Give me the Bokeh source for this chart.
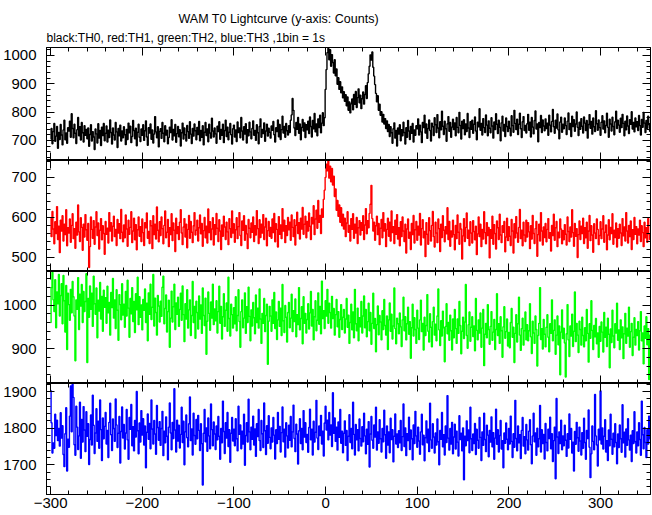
from bokeh.plotting import figure
from bokeh.models import (Range1d, SingleIntervalTicker, LinearAxis, Title,
                          CustomJSTickFormatter, ColumnDataSource)
from bokeh.layouts import column
from bokeh.embed import file_html
from bokeh.resources import INLINE

# ---------------- data (counts per 1 s bin, first bin at t = -300 s) -------------
t_start = -300

th0 = [
    705, 742, 688, 731, 760, 697, 715, 749, 672, 728, 703, 756, 719, 684, 737, 771, 702, 726, 690, 745,
    733, 768, 711, 794, 742, 709, 757, 725, 689, 738, 781, 716, 748, 701, 763, 727, 694, 752, 718, 739,
    706, 744, 679, 721, 755, 698, 731, 712, 668, 740, 723, 691, 759, 708, 735, 682, 747, 717, 760, 699,
    725, 751, 694, 736, 710, 772, 728, 687, 744, 719, 701, 763, 730, 675, 742, 716, 754, 698, 733, 709,
    748, 720, 685, 739, 703, 761, 727, 750, 692, 714, 770, 735, 706, 743, 681, 729, 757, 711, 696, 740,
    718, 755, 700, 734, 769, 712, 683, 745, 726, 758, 704, 737, 691, 722, 784, 730, 709, 748, 677, 732,
    741, 707, 763, 725, 695, 752, 719, 736, 688, 710, 747, 728, 773, 701, 739, 716, 756, 693, 724, 749,
    713, 738, 680, 727, 761, 705, 744, 720, 698, 753, 731, 707, 766, 722, 689, 742, 715, 758, 734, 702,
    746, 721, 767, 699, 735, 711, 752, 684, 729, 763, 717, 740, 695, 757, 726, 708, 778, 733, 712, 744,
    723, 690, 750, 731, 766, 704, 739, 718, 757, 692, 735, 771, 714, 747, 702, 729, 760, 720, 687, 741,
    754, 712, 737, 696, 765, 728, 744, 709, 781, 733, 701, 748, 722, 759, 691, 738, 716, 764, 730, 706,
    742, 769, 718, 735, 700, 755, 727, 688, 749, 776, 711, 739, 724, 762, 697, 733, 757, 715, 743, 729,
    708, 751, 736, 767, 720, 694, 745, 731, 772, 713, 756, 703, 738, 785, 726, 749, 711, 760, 734, 719,
    752, 728, 771, 790, 848, 806, 744, 717, 763, 739, 781, 725, 758, 702, 746, 774, 733, 762, 710, 755,
    737, 768, 724, 783, 749, 712, 770, 741, 795, 730, 758, 716, 776, 745, 789, 727, 761, 798, 752, 780,
    880, 950, 1010, 1025, 985, 1020, 962, 1003, 975, 938, 985, 928, 952, 898, 921, 880, 907, 868, 889, 850,
    872, 838, 861, 822, 853, 806, 836, 797, 829, 846, 808, 862, 827, 873, 816, 851, 882, 833, 860, 812,
    847, 871, 828, 862, 893, 848, 904, 935, 962, 1002, 984, 1012, 958, 927, 897, 866, 836, 858, 806, 828,
    789, 801, 765, 792, 758, 777, 742, 769, 731, 756, 714, 748, 727, 690, 741, 762, 708, 735, 680, 744,
    722, 755, 699, 738, 716, 764, 728, 687, 745, 711, 770, 733, 703, 749, 725, 760, 694, 737, 718, 752,
    741, 776, 719, 754, 730, 692, 763, 745, 789, 726, 758, 707, 742, 772, 735, 698, 761, 748, 717, 780,
    755, 728, 791, 744, 709, 766, 737, 803, 750, 721, 768, 741, 697, 759, 784, 732, 763, 711, 747, 775,
    738, 762, 716, 781, 746, 727, 799, 753, 705, 768, 742, 773, 720, 758, 731, 795, 744, 710, 766, 739,
    771, 725, 757, 783, 733, 702, 764, 748, 812, 736, 760, 719, 777, 745, 728, 790, 754, 716, 769, 743,
    727, 780, 751, 708, 765, 738, 794, 757, 724, 771, 746, 699, 762, 785, 733, 756, 714, 779, 749, 731,
    768, 743, 716, 787, 752, 729, 806, 760, 738, 775, 721, 757, 796, 741, 710, 766, 784, 735, 753, 726,
    759, 792, 736, 764, 712, 781, 747, 723, 770, 804, 740, 758, 695, 763, 745, 788, 728, 772, 751, 734,
    776, 742, 761, 718, 789, 754, 730, 767, 809, 748, 725, 771, 744, 793, 737, 706, 765, 782, 729, 757,
    741, 779, 752, 721, 768, 797, 738, 760, 714, 785, 749, 773, 732, 758, 800, 746, 717, 764, 739, 777,
    750, 726, 783, 761, 735, 770, 708, 756, 791, 743, 767, 722, 779, 748, 731, 805, 759, 736, 772, 745,
    718, 764, 787, 740, 769, 727, 753, 796, 746, 711, 775, 758, 733, 782, 749, 720, 766, 803, 742, 771,
    754, 729, 778, 745, 792, 760, 716, 768, 737, 786, 751, 724, 773, 757, 801, 740, 763, 730, 779, 748,
    766, 735, 788, 752, 719, 774, 746, 799, 761, 728, 770, 743, 785, 756, 732,
]

th1 = [
    598, 552, 615, 571, 534, 589, 560, 627, 545, 578, 512, 593, 566, 604, 541, 583, 557, 619, 529, 574,
    561, 596, 538, 580, 609, 547, 572, 523, 588, 556, 631, 564, 540, 599, 575, 518, 583, 551, 607, 569,
    543, 585, 475, 527, 601, 570, 548, 592, 533, 576, 614, 555, 586, 521, 568, 597, 544, 579, 560, 508,
    590, 558, 573, 536, 612, 566, 587, 541, 578, 603, 552, 570, 530, 595, 561, 584, 547, 620, 563, 539,
    581, 549, 606, 571, 528, 593, 558, 575, 614, 537, 566, 598, 544, 582, 519, 569, 601, 553, 577, 540,
    596, 562, 530, 587, 574, 611, 548, 565, 535, 592, 579, 522, 604, 557, 583, 546, 626, 568, 539, 589,
    555, 601, 572, 534, 580, 616, 549, 563, 595, 527, 574, 557, 609, 542, 586, 568, 515, 598, 560, 577,
    545, 588, 619, 561, 532, 576, 597, 551, 583, 524, 570, 605, 548, 590, 563, 537, 579, 612, 556, 568,
    593, 541, 574, 606, 559, 585, 528, 567, 600, 549, 578, 536, 621, 562, 589, 544, 571, 599, 531, 582,
    557, 610, 573, 540, 594, 566, 520, 581, 553, 603, 576, 545, 588, 564, 532, 597, 572, 550, 616, 561,
    584, 538, 569, 599, 547, 577, 612, 555, 530, 591, 568, 604, 543, 580, 559, 522, 595, 573, 549, 586,
    563, 601, 540, 579, 556, 617, 572, 535, 594, 550, 583, 561, 607, 545, 576, 598, 529, 567, 590, 553,
    575, 548, 596, 562, 610, 539, 584, 570, 526, 602, 558, 581, 547, 622, 566, 593, 537, 579, 555, 600,
    569, 588, 543, 606, 575, 552, 594, 531, 580, 613, 560, 587, 546, 598, 571, 625, 558, 583, 603, 549,
    590, 566, 611, 578, 545, 600, 584, 629, 557, 596, 618, 573, 642, 588, 605, 560, 621, 600, 645, 668,
    700, 733, 716, 741, 698, 728, 689, 722, 681, 703, 652, 671, 618, 642, 603, 631, 588, 624, 579, 608,
    571, 598, 552, 586, 614, 563, 580, 541, 597, 570, 609, 548, 583, 561, 600, 535, 574, 592, 556, 587,
    568, 604, 545, 581, 622, 559, 592, 574, 610, 633, 680, 597, 566, 588, 543, 579, 603, 557, 585, 532,
    573, 595, 549, 612, 566, 584, 527, 570, 598, 553, 588, 541, 616, 562, 577, 535, 593, 558, 607, 546,
    574, 529, 589, 552, 601, 566, 540, 583, 511, 571, 596, 548, 563, 520, 585, 557, 605, 536, 569, 590,
    543, 578, 556, 610, 531, 572, 594, 549, 565, 502, 587, 558, 533, 599, 567, 541, 580, 615, 552, 526,
    588, 561, 537, 596, 572, 515, 583, 550, 604, 568, 539, 577, 559, 624, 545, 590, 528, 566, 551, 593,
    557, 519, 580, 547, 606, 563, 533, 585, 571, 496, 554, 597, 540, 575, 611, 548, 568, 530, 589, 561,
    536, 592, 565, 544, 578, 507, 559, 601, 552, 583, 527, 570, 546, 614, 562, 534, 587, 555, 575, 499,
    569, 548, 603, 533, 582, 560, 521, 591, 574, 545, 608, 556, 537, 579, 563, 590, 514, 551, 598, 542,
    577, 553, 530, 595, 566, 511, 584, 549, 602, 561, 538, 575, 620, 547, 568, 529, 588, 556, 540, 593,
    551, 587, 564, 522, 579, 546, 605, 560, 535, 572, 590, 503, 557, 583, 541, 612, 566, 531, 576, 550,
    585, 539, 570, 597, 548, 562, 516, 580, 555, 608, 543, 574, 590, 527, 563, 549, 596, 571, 534, 567,
    544, 582, 558, 531, 601, 565, 540, 576, 551, 619, 562, 528, 585, 553, 572, 500, 557, 591, 545, 578,
    560, 598, 535, 574, 549, 588, 523, 566, 605, 542, 579, 556, 513, 584, 561, 547, 596, 570, 532, 555,
    589, 547, 571, 604, 538, 563, 581, 519, 556, 594, 544, 575, 560, 609, 533, 568, 550, 586, 526, 572,
    548, 583, 561, 530, 597, 554, 576, 541, 612, 566, 536, 580, 552, 591, 520, 569, 545, 600, 558, 577,
    534, 571, 556, 593, 540, 579, 562, 527, 588, 549, 574, 538, 597, 559, 545,
]

th2 = [
    960, 1040, 1075, 1012, 985, 1058, 948, 1030, 1003, 1070, 975, 1022, 1049, 957, 1068, 1010, 938, 1045, 898, 1027,
    1001, 965, 1036, 982, 1054, 1019, 975, 872, 1012, 990, 1063, 944, 1025, 998, 1047, 960, 1031, 985, 1008, 1072,
    868, 1015, 972, 1044, 990, 1027, 951, 1066, 1003, 979, 1039, 925, 1011, 986, 1052, 968, 1020, 940, 1034, 995,
    1017, 958, 1043, 982, 1006, 931, 1029, 994, 1061, 970, 1012, 946, 1035, 988, 919, 1024, 1001, 966, 1049, 977,
    1002, 949, 1031, 975, 1057, 993, 926, 1015, 980, 1040, 962, 1008, 937, 1026, 989, 1064, 955, 1019, 972, 1000,
    943, 1013, 988, 1037, 960, 1004, 918, 1028, 979, 1048, 967, 995, 1070, 952, 1016, 983, 931, 1022, 998, 961,
    1009, 974, 1041, 1066, 957, 992, 1023, 938, 985, 1011, 903, 970, 1032, 961, 996, 1048, 944, 1005, 979, 1018,
    951, 990, 1027, 965, 1044, 978, 916, 1003, 968, 1035, 947, 989, 1012, 930, 976, 1054, 960, 997, 924, 1009,
    983, 945, 1021, 968, 1000, 935, 1039, 976, 953, 1016, 887, 963, 1030, 981, 942, 1007, 970, 1048, 955, 991,
    964, 1010, 936, 985, 1043, 958, 997, 922, 973, 1026, 951, 988, 1005, 940, 1064, 969, 929, 1002, 978, 947,
    994, 957, 1019, 941, 976, 1035, 962, 903, 985, 1012, 948, 970, 1028, 935, 996, 960, 1041, 974, 918, 989,
    952, 1006, 971, 934, 1023, 960, 993, 947, 1037, 968, 912, 981, 958, 1015, 939, 976, 1002, 864, 963, 997,
    975, 940, 1012, 958, 1029, 946, 984, 921, 966, 1008, 951, 993, 930, 1047, 964, 937, 999, 972, 915, 983,
    1006, 948, 970, 1025, 939, 987, 962, 1014, 927, 978, 955, 1040, 943, 969, 996, 911, 1019, 958, 981, 936,
    967, 1003, 945, 982, 1031, 952, 990, 920, 973, 1010, 941, 965, 1028, 956, 997, 934, 1055, 969, 987, 946,
    1010, 975, 1036, 958, 1004, 983, 947, 1020, 969, 992, 931, 978, 1013, 950, 985, 926, 967, 1001, 944, 972,
    990, 936, 968, 1015, 949, 977, 912, 960, 1002, 943, 984, 925, 1036, 957, 941, 993, 918, 971, 950, 1008,
    936, 975, 1021, 948, 990, 927, 962, 1004, 941, 983, 910, 958, 1027, 946, 969, 893, 955, 998, 932, 976,
    961, 920, 987, 944, 1013, 953, 931, 975, 898, 966, 1005, 940, 979, 922, 952, 1039, 946, 911, 970, 957,
    934, 982, 950, 905, 966, 1018, 941, 973, 920, 957, 995, 933, 962, 878, 948, 1002, 929, 971, 944, 912,
    988, 947, 921, 966, 1011, 939, 958, 897, 972, 930, 953, 1024, 940, 915, 980, 949, 904, 962, 995, 931,
    956, 918, 975, 1037, 943, 907, 964, 929, 986, 948, 870, 951, 1003, 934, 960, 919, 977, 941, 897, 968,
    925, 990, 946, 912, 968, 935, 1008, 953, 888, 940, 972, 923, 961, 1047, 930, 901, 955, 984, 917, 949,
    973, 928, 952, 895, 1015, 942, 920, 966, 936, 982, 903, 947, 990, 861, 933, 958, 925, 1001, 944, 910,
    951, 985, 919, 938, 967, 898, 944, 1026, 930, 957, 912, 973, 941, 880, 950, 996, 924, 939, 968, 906,
    937, 902, 960, 992, 926, 949, 868, 935, 978, 915, 957, 1018, 931, 896, 946, 970, 908, 941, 984, 920,
    955, 918, 941, 1003, 927, 889, 963, 936, 912, 975, 944, 860, 930, 958, 1040, 921, 946, 899, 967, 933,
    904, 949, 978, 926, 893, 957, 935, 1012, 918, 942, 966, 887, 931, 975, 909, 952, 840, 938, 989, 923,
    947, 913, 835, 934, 1001, 920, 882, 952, 929, 979, 905, 940, 1030, 916, 958, 931, 891, 963, 944, 908,
    972, 930, 904, 948, 918, 990, 935, 869, 957, 924, 1010, 942, 898, 953, 927, 969, 911, 936, 880, 951,
    917, 961, 938, 892, 983, 926, 949, 905, 970, 933, 856, 945, 914, 988, 929, 902, 957, 936, 1004, 919,
    943, 898, 966, 925, 950, 877, 934, 981, 912, 947, 929, 995, 903, 939, 958, 884, 926, 971, 908, 944,
    930, 962, 897, 941, 985, 918, 936, 865, 952, 924, 973, 909, 946, 829, 931,
]

th3 = [
    1903, 1815, 1732, 1760, 1745, 1838, 1780, 1822, 1766, 1799, 1751, 1842, 1773, 1807, 1728, 1695, 1785, 1856, 1683, 1770,
    1748, 1833, 1915, 1790, 1920, 1884, 1755, 1726, 1860, 1803, 1742, 1779, 1871, 1718, 1824, 1762, 1859, 1795, 1736, 1845,
    1778, 1812, 1701, 1769, 1836, 1754, 1890, 1808, 1731, 1787, 1853, 1764, 1819, 1745, 1877, 1796, 1712, 1828, 1771, 1805,
    1843, 1757, 1794, 1720, 1816, 1868, 1782, 1739, 1825, 1799, 1764, 1880, 1809, 1747, 1786, 1832, 1705, 1791, 1858, 1773,
    1810, 1743, 1787, 1851, 1768, 1715, 1829, 1797, 1865, 1752, 1804, 1738, 1821, 1776, 1900, 1793, 1730, 1814, 1762, 1848,
    1781, 1826, 1754, 1806, 1692, 1789, 1839, 1770, 1813, 1744, 1877, 1798, 1757, 1821, 1784, 1729, 1862, 1802, 1767, 1818,
    1753, 1799, 1846, 1725, 1792, 1760, 1831, 1778, 1714, 1803, 1869, 1787, 1741, 1816, 1772, 1908, 1795, 1735, 1822, 1765,
    1808, 1746, 1783, 1857, 1761, 1819, 1700, 1790, 1836, 1774, 1749, 1812, 1885, 1766, 1798, 1727, 1841, 1780, 1756, 1824,
    1771, 1835, 1794, 1739, 1812, 1758, 1645, 1786, 1851, 1763, 1801, 1737, 1828, 1779, 1744, 1866, 1796, 1752, 1817, 1784,
    1742, 1806, 1768, 1832, 1778, 1715, 1799, 1760, 1874, 1791, 1731, 1815, 1773, 1843, 1750, 1796, 1707, 1786, 1829, 1765,
    1797, 1752, 1826, 1771, 1738, 1860, 1783, 1809, 1744, 1792, 1757, 1838, 1699, 1780, 1815, 1762, 1879, 1790, 1741, 1803,
    1770, 1833, 1754, 1798, 1723, 1812, 1777, 1851, 1766, 1739, 1821, 1785, 1747, 1869, 1793, 1728, 1807, 1759, 1834, 1775,
    1744, 1801, 1762, 1829, 1781, 1716, 1796, 1758, 1843, 1770, 1805, 1735, 1788, 1858, 1763, 1797, 1721, 1815, 1779, 1746,
    1808, 1767, 1832, 1749, 1790, 1863, 1772, 1736, 1811, 1784, 1702, 1793, 1826, 1758, 1799, 1741, 1848, 1776, 1815, 1761,
    1783, 1734, 1802, 1852, 1768, 1797, 1727, 1819, 1762, 1789, 1876, 1773, 1742, 1806, 1780, 1835, 1757, 1792, 1724, 1814,
    1860, 1795, 1822, 1768, 1843, 1781, 1809, 1750, 1897, 1786, 1828, 1764, 1803, 1740, 1817, 1775, 1851, 1759, 1792, 1733,
    1786, 1820, 1753, 1794, 1712, 1778, 1837, 1761, 1799, 1744, 1871, 1783, 1727, 1810, 1768, 1796, 1738, 1825, 1772, 1751,
    1804, 1763, 1841, 1779, 1730, 1797, 1756, 1818, 1694, 1784, 1832, 1767, 1745, 1809, 1776, 1857, 1740, 1790, 1759, 1823,
    1771, 1735, 1799, 1763, 1849, 1782, 1718, 1806, 1754, 1790, 1733, 1827, 1769, 1796, 1708, 1778, 1839, 1757, 1784, 1747,
    1793, 1760, 1821, 1739, 1777, 1866, 1750, 1801, 1725, 1785, 1766, 1830, 1742, 1795, 1771, 1714, 1809, 1758, 1846, 1779,
    1748, 1803, 1765, 1729, 1790, 1838, 1755, 1781, 1711, 1774, 1820, 1760, 1797, 1736, 1868, 1768, 1745, 1812, 1776, 1732,
    1787, 1754, 1825, 1763, 1700, 1794, 1770, 1843, 1749, 1782, 1727, 1806, 1761, 1889, 1773, 1740, 1799, 1757, 1816, 1730,
    1776, 1811, 1743, 1792, 1762, 1724, 1834, 1769, 1786, 1738, 1801, 1659, 1778, 1752, 1820, 1766, 1795, 1733, 1857, 1771,
    1739, 1784, 1758, 1813, 1728, 1797, 1767, 1745, 1829, 1775, 1712, 1790, 1753, 1841, 1769, 1736, 1808, 1781, 1722, 1794,
    1762, 1831, 1749, 1788, 1715, 1773, 1852, 1756, 1796, 1735, 1780, 1821, 1743, 1766, 1692, 1787, 1759, 1814, 1770, 1741,
    1799, 1757, 1833, 1764, 1720, 1785, 1748, 1876, 1772, 1738, 1806, 1760, 1782, 1717, 1794, 1829, 1751, 1777, 1730, 1810,
    1768, 1740, 1792, 1823, 1755, 1703, 1779, 1841, 1763, 1787, 1726, 1800, 1749, 1771, 1862, 1735, 1796, 1758, 1783, 1716,
    1813, 1761, 1738, 1797, 1772, 1830, 1744, 1785, 1709, 1766, 1803, 1662, 1881, 1776, 1731, 1790, 1758, 1822, 1741, 1779,
    1752, 1808, 1767, 1723, 1785, 1746, 1839, 1770, 1799, 1732, 1762, 1683, 1791, 1756, 1816, 1774, 1737, 1803, 1765, 1727,
    1788, 1745, 1827, 1761, 1715, 1794, 1772, 1850, 1748, 1665, 1730, 1806, 1764, 1741, 1892, 1779, 1754, 1697, 1797, 1768,
    1902, 1757, 1801, 1743, 1778, 1823, 1735, 1766, 1712, 1795, 1752, 1838, 1770, 1729, 1786, 1749, 1812, 1761, 1703, 1784,
    1747, 1809, 1771, 1734, 1864, 1760, 1789, 1721, 1798, 1753, 1826, 1768, 1740, 1781, 1709, 1793, 1758, 1845, 1763, 1732,
    1790, 1752, 1815, 1769, 1726, 1874, 1782, 1744, 1802, 1761, 1720, 1796, 1757, 1833, 1771,
]

series = [th0, th1, th2, th3]
colors = ["#000000", "#ff0000", "#00ff00", "#0000ff"]
y_ranges = [(629, 1028), (465, 742), (820, 1077), (1619, 1922)]

title_text = "WAM T0 Lightcurve (y-axis: Counts)"
subtitle_text = "black:TH0, red:TH1, green:TH2, blue:TH3 ,1bin = 1s"

# ---------------- styling -------------
FONT = "Liberation Sans"
FRAME_W = 604
FRAME_H = [113, 111, 112, 111]
x_range = Range1d(-304.5, 354.5)

blank = CustomJSTickFormatter(code="return '';")
minus_fmt = CustomJSTickFormatter(code="return (tick < 0 ? '\u2212' : '') + Math.abs(tick).toFixed(0);")


def make_axis(labels, fmt=None, standoff=10):
    ax = LinearAxis(
        ticker=SingleIntervalTicker(interval=100, num_minor_ticks=5),
        major_tick_in=8, major_tick_out=0,
        minor_tick_in=4, minor_tick_out=0,
        major_tick_line_color="black", minor_tick_line_color="black",
        axis_line_color="black", axis_line_width=1,
    )
    if labels:
        ax.major_label_text_font = FONT
        ax.major_label_text_font_size = "15px"
        ax.major_label_text_color = "black"
        ax.major_label_standoff = standoff
        if fmt is not None:
            ax.formatter = fmt
    else:
        ax.formatter = blank
        ax.major_label_text_font_size = "0px"
        ax.major_label_standoff = 0
    return ax


figs = []
n = len(series)
for i, (vals, col, yr, fh) in enumerate(zip(series, colors, y_ranges, FRAME_H)):
    t = list(range(t_start, t_start + len(vals)))
    src = ColumnDataSource(dict(t=t, v=vals))
    p = figure(frame_width=FRAME_W, frame_height=fh,
               x_range=x_range, y_range=Range1d(*yr),
               output_backend="svg", toolbar_location=None,
               x_axis_location=None, y_axis_location=None,
               min_border_left=46, min_border_right=2,
               min_border_top=(47 if i == 0 else 0), min_border_bottom=0,
               background_fill_color="white", border_fill_color="white",
               outline_line_color="black")
    p.grid.visible = False
    p.step(x="t", y="v", source=src, mode="center", line_color=col, line_width=1.4)

    p.add_layout(make_axis(True, standoff=10), "left")
    p.add_layout(make_axis(False), "right")
    p.add_layout(make_axis(i == n - 1, minus_fmt, standoff=3), "below")
    p.add_layout(make_axis(False), "above")

    if i == 0:
        p.add_layout(Title(text=subtitle_text, align="left", offset=0,
                           text_font=FONT, text_font_size="12px",
                           text_font_style="normal", text_color="black",
                           standoff=5), "above")
        p.add_layout(Title(text=title_text, align="left", offset=132,
                           text_font=FONT, text_font_size="12.5px",
                           text_font_style="normal", text_color="black",
                           standoff=2), "above")
    figs.append(p)

layout = column(*figs, spacing=0)
open("out.html", "w").write(file_html(layout, INLINE))
